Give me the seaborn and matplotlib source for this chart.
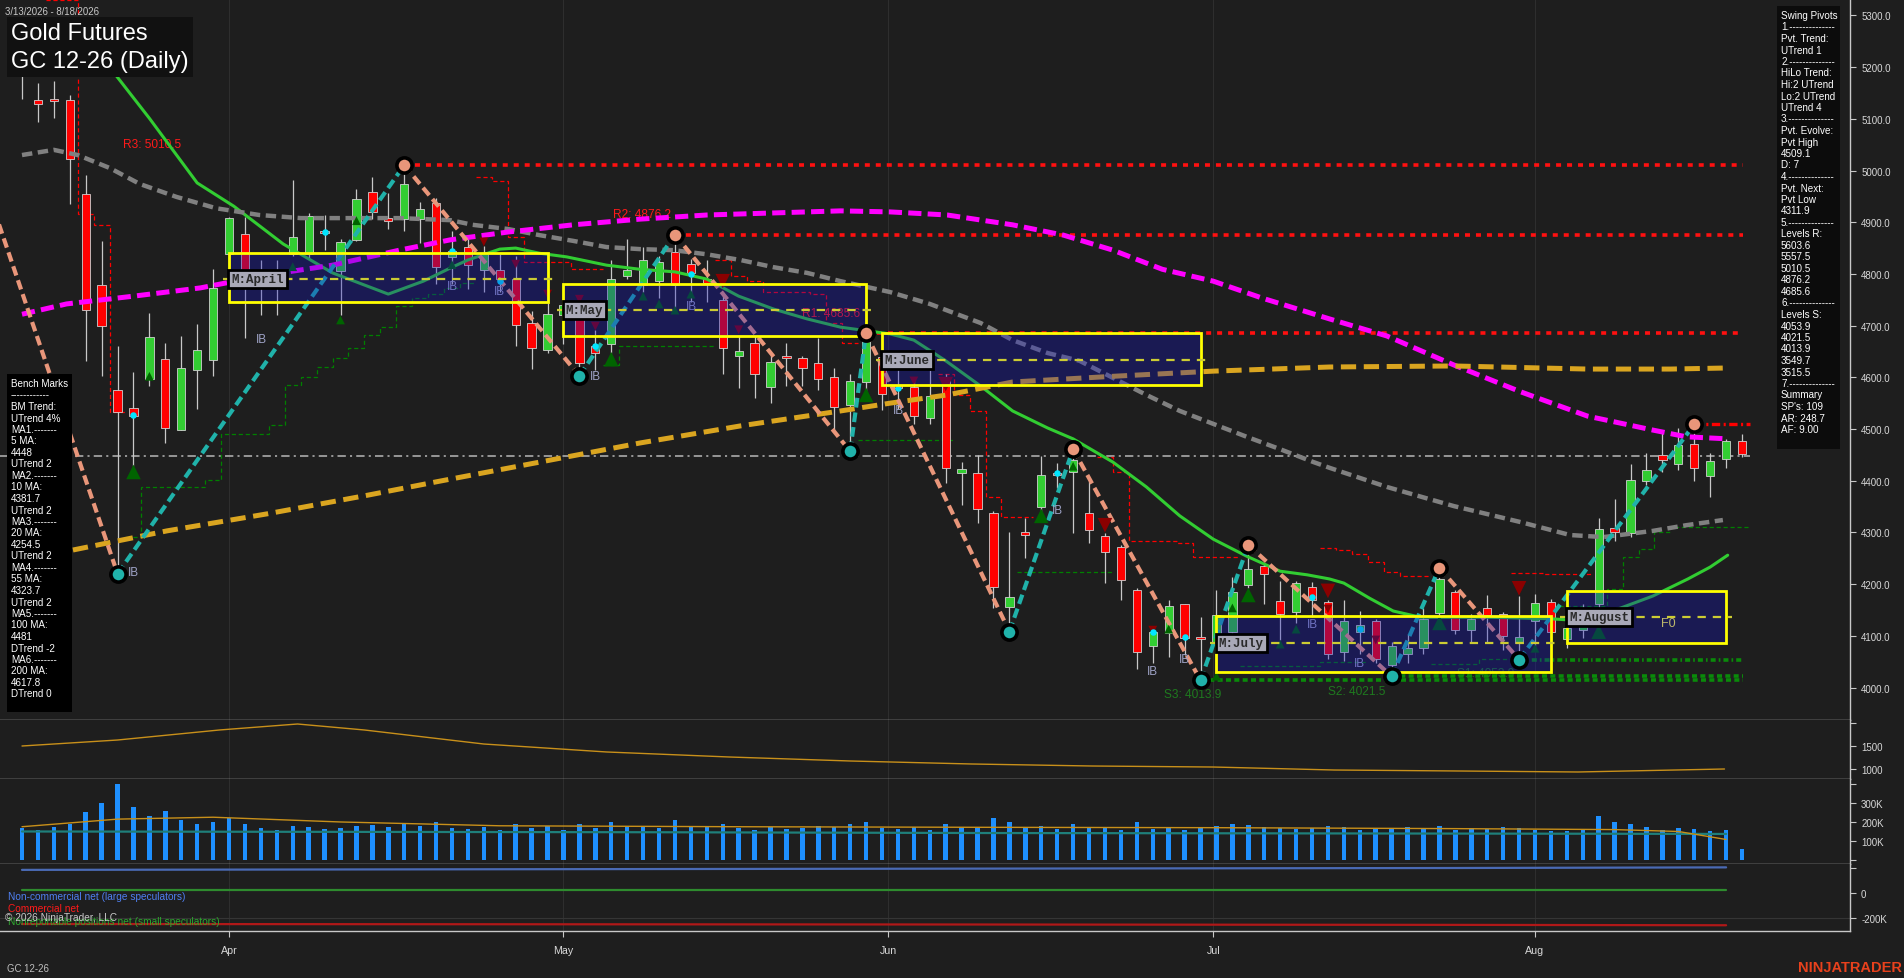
import numpy as np
import pandas as pd
import seaborn as sns
import matplotlib.pyplot as plt
from matplotlib.patches import Rectangle

# ---------------- daily bars, GC 12-26 (bar index 0 = 3/13/2026) ----------------
opens = [5210, 5137, 5138, 5137, 4954, 4779, 4575, 4541, 4597, 4636,
         4498, 4615, 4633, 4838, 4877, 4783, 4801, 4838, 4838, 4882,
         4806, 4865, 4958, 4909, 4907, 4907, 4938, 4832, 4853, 4808,
         4807, 4790, 4706, 4653, 4720, 4737, 4661, 4664, 4796, 4778,
         4786, 4842, 4820, 4790, 4749, 4642, 4666, 4581, 4642, 4638,
         4627, 4601, 4546, 4591, 4640, 4586, 4581, 4522, 4593, 4415,
         4415, 4337, 4155, 4300, 4349, 4415, 4417, 4337, 4293, 4272,
         4189, 4080, 4106, 4161, 4097, 4084, 4108, 4198, 4236, 4167,
         4147, 4195, 4165, 4068, 4108, 4129, 4043, 4065, 4076, 4145,
         4185, 4112, 4153, 4143, 4086, 4129, 4165, 4093, 4112, 4161,
         4309, 4299, 4400, 4449, 4433, 4471, 4410, 4443, 4476]
highs = [5235, 5169, 5173, 5147, 4992, 4863, 4660, 4611, 4725, 4666,
         4679, 4704, 4810, 4911, 4911, 4826, 4826, 4982, 4917, 4914,
         4867, 4964, 4988, 4956, 5010.5, 4940, 4946, 4883, 4867, 4855,
         4838, 4834, 4729, 4743, 4761, 4757, 4692, 4826, 4868, 4852,
         4834, 4876.2, 4828, 4827, 4765, 4680, 4680, 4644, 4666, 4641,
         4676, 4619, 4607, 4685.6, 4656, 4648, 4599, 4615, 4607, 4437,
         4449, 4341, 4301, 4327, 4447, 4435, 4461, 4400, 4299, 4275,
         4192, 4119, 4169, 4161, 4137, 4189, 4214, 4276, 4238, 4206,
         4206, 4204, 4169, 4169, 4149, 4133, 4088, 4104, 4153, 4231.6,
         4189, 4143, 4179, 4146, 4177, 4181, 4171, 4145, 4161, 4327,
         4364, 4433, 4453, 4494, 4502, 4509.1, 4453, 4481, 4491]
lows = [5138, 5094, 5102, 4936, 4631, 4603, 4220, 4429, 4583, 4473,
        4498, 4538, 4603, 4794, 4676, 4721, 4721, 4835, 4830, 4847,
        4721, 4863, 4907, 4887, 4883, 4860, 4780, 4780, 4771, 4766,
        4766, 4661, 4617, 4648, 4664, 4603, 4615, 4648, 4790, 4765,
        4753, 4737, 4745, 4745, 4607, 4579, 4560, 4550, 4583, 4583,
        4575, 4494, 4457, 4567, 4536, 4538, 4510, 4510, 4396, 4354,
        4319, 4153, 4108, 4250, 4331, 4386, 4299, 4279, 4202, 4169,
        4035, 4048, 4060, 4063, 4013.9, 4019, 4104, 4193, 4161, 4092,
        4125, 4137, 4056, 4052, 4064, 4048, 4021.5, 4048, 4064, 4137,
        4104, 4086, 4088, 4072, 4053.9, 4080, 4104, 4076, 4096, 4145,
        4283, 4291, 4392, 4417, 4421, 4400, 4368, 4425, 4445]
closes = [5187, 5129, 5134, 5022, 4730, 4700, 4532, 4526, 4678, 4502,
          4619, 4652, 4773, 4909, 4778, 4781, 4803, 4872, 4913, 4880,
          4861, 4945, 4919, 4902, 4974, 4925, 4813, 4845, 4818, 4838,
          4790, 4702, 4656, 4723, 4740, 4628, 4648, 4790, 4808, 4826,
          4824, 4778, 4802, 4783, 4656, 4651, 4607, 4630, 4637, 4618,
          4597, 4542, 4593, 4676, 4568, 4579, 4526, 4563, 4425, 4422,
          4346, 4194, 4175, 4295, 4411, 4412, 4441, 4305, 4262, 4208,
          4068, 4108, 4157, 4096, 4094, 4141, 4184, 4230, 4220, 4143,
          4202, 4169, 4065, 4129, 4120, 4056, 4080, 4076, 4133, 4210,
          4111, 4132, 4141, 4100, 4097, 4163, 4108, 4116, 4128, 4307,
          4301, 4402, 4421, 4441, 4469, 4425, 4438, 4476, 4451]
volume_k = [170, 160, 175, 190, 250, 300, 400, 280, 230, 260,
            210, 190, 200, 220, 190, 170, 160, 180, 175, 165,
            170, 180, 185, 175, 190, 180, 200, 170, 165, 175,
            160, 190, 170, 180, 160, 190, 170, 200, 180, 175,
            170, 210, 180, 175, 190, 170, 160, 175, 165, 170,
            180, 175, 190, 200, 170, 165, 175, 160, 190, 175,
            170, 220, 200, 175, 180, 165, 190, 175, 170, 160,
            200, 165, 170, 160, 175, 180, 190, 185, 175, 170,
            165, 170, 180, 175, 160, 170, 165, 175, 170, 180,
            160, 170, 165, 175, 170, 160, 150, 155, 160, 230,
            200, 190, 175, 160, 170, 165, 155, 160, 60]

month_labels = ["Apr", "May", "Jun", "Jul", "Aug"]
month_pos = [13, 34, 54.4, 74.8, 95]

# moving averages (bar, value)
ma20_bar = [2, 3.5, 5.5, 8, 11, 13.3, 16.4, 19.5, 23, 25.2, 27, 28, 30, 31, 32.5, 34.2, 36.7, 38.8, 41, 43,
            45, 47.2, 49.3, 51.4, 54.5, 56, 58, 60.2, 62.2, 64.4, 66, 68.5, 70.6, 72.7, 74.8, 76.9, 79,
            80.7, 82.1, 83, 84.6, 86.1, 87.8, 92, 96, 98, 100.4, 102.4, 104.6, 106, 107.1]
ma20_val = [5289, 5245, 5200, 5101, 4976, 4931, 4858, 4802, 4761, 4786, 4813, 4827, 4848, 4850, 4840, 4833,
            4817, 4809, 4804, 4790, 4757, 4732, 4713, 4697, 4684, 4672, 4632, 4583, 4535, 4502, 4481, 4436,
            4388, 4332, 4287, 4254, 4225, 4218, 4210, 4202, 4173, 4148, 4136, 4136, 4133, 4129, 4154, 4177,
            4210, 4233, 4256]
ma55_bar = [0, 2, 3.5, 5.5, 7.4, 9.7, 12.2, 14.9, 17.5, 20.6, 23.7, 26.9, 28.3, 30.5, 32.5, 34.6, 36.7,
            38.8, 40.9, 43, 45.1, 47.2, 49.3, 51.4, 54.5, 57, 60.2, 62.2, 64.4, 66.4, 68.5, 70.6, 72.7,
            74.8, 76.9, 79, 81.1, 82.1, 85.7, 89.9, 94.1, 97.2, 99.3, 102.4, 104.5, 106.8]
ma55_val = [5030, 5040, 5030, 5005, 4974, 4949, 4927, 4914, 4908, 4908, 4908, 4904, 4895, 4887, 4875, 4864,
            4852, 4848, 4846, 4838, 4827, 4813, 4802, 4786, 4765, 4742, 4705, 4672, 4647, 4632, 4599, 4566,
            4535, 4510, 4485, 4461, 4436, 4425, 4388, 4351, 4320, 4295, 4291, 4303, 4314, 4324]
ma100_bar = [0, 2.8, 7, 11.2, 15.4, 19.5, 23.7, 26.9, 30.5, 34.6, 38.8, 43, 47.2, 51.4, 54.5, 58.1, 62.2,
             65.4, 68.5, 71.6, 74.8, 77.9, 82.1, 85.7, 89.9, 94.1, 98.3, 102.4, 104.5, 107.1]
ma100_val = [4722, 4742, 4757, 4773, 4798, 4817, 4846, 4866, 4881, 4895, 4906, 4914, 4918, 4922, 4920, 4914,
             4895, 4875, 4846, 4809, 4786, 4753, 4713, 4680, 4624, 4572, 4525, 4498, 4485, 4481]
ma200_bar = [3.2, 9.1, 15.4, 21.7, 26.2, 32.5, 38.8, 45.1, 51.4, 54.5, 58.1, 62.2, 68.5, 74.8, 82.1, 89.9,
             98.3, 103.5, 106.9]
ma200_val = [4266, 4303, 4336, 4372, 4399, 4436, 4473, 4506, 4535, 4550, 4566, 4591, 4602, 4612, 4620, 4622,
             4616, 4616, 4618]

# swing pivots
pivot_bar = [-3, 6, 24, 35, 41, 52, 53, 62, 66, 74, 77, 86, 89, 94, 105]
pivot_price = [5037, 4220, 5010.5, 4603, 4876.2, 4457, 4685.6, 4108, 4461, 4013.9, 4276, 4021.5, 4231.6,
               4053.9, 4509.1]
res_names = ["R3", "R2", "R1"]
res_levels = [5010.5, 4876.2, 4685.6]
res_from = [24, 41, 53]
sup_names = ["S3", "S2", "S1"]
sup_levels = [4013.9, 4021.5, 4053.9]
sup_from = [74, 86, 94]
pivot_next_high = 4509.1
bench_5ma = 4448

# monthly boxes
box_names = ["M:April", "M:May", "M:June", "M:July", "M:August"]
box_start = [13, 34, 54, 75, 97]
box_end = [33, 53, 74, 96, 107]
box_top = [4841, 4780, 4686, 4138, 4187]
box_bot = [4746, 4680, 4585, 4031, 4086]
box_mid = [4790, 4730, 4634, 4086, 4136]

# trailing stop steps (first bar, values)
red_steps = [(2, [5330, 5330, 4916, 4894, 4532]),
             (29, [4987, 4980, 4871, 4823, 4823, 4823, 4809, 4809]),
             (44, [4827, 4796, 4786, 4765, 4765, 4765, 4761, 4705, 4666]),
             (58, [4606, 4566, 4535, 4368, 4330, 4330]),
             (68, [4446, 4417, 4283, 4283, 4283, 4280, 4252, 4252, 4252]),
             (82, [4270, 4266, 4258, 4243, 4223, 4216, 4216]),
             (94, [4221, 4221, 4220, 4220, 4220])]
green_steps = [(7, [4291, 4388, 4388, 4388, 4388, 4401, 4490, 4490, 4490, 4508, 4585, 4601, 4620, 4637,
                    4657, 4682, 4697, 4738, 4753, 4761, 4773, 4782]),
               (37, [4623, 4661, 4661, 4661, 4661, 4661, 4661]),
               (53, [4478, 4478, 4478, 4478, 4478, 4478]),
               (63, [4223, 4223, 4223, 4223, 4223, 4223]),
               (77, [4042, 4042, 4042, 4042, 4042, 4049, 4049, 4049]),
               (89, [4045, 4045, 4045, 4055, 4055, 4055]),
               (97, [4158, 4158, 4158, 4191, 4252, 4268, 4301, 4311, 4311, 4311, 4311, 4311])]

# inside bar marks
ib_bar = [7, 15, 27, 30, 36, 42, 55, 65, 71, 73, 81, 84]
ib_price = [4224, 4674, 4777, 4767, 4602, 4738, 4537, 4343, 4032, 4055, 4123, 4047]
dot_bar = [7, 15, 19, 27, 30, 36, 42, 55, 65, 71, 73, 81, 84]
dot_price = [4527, 4782, 4881, 4844, 4786, 4661, 4800, 4579, 4415, 4108, 4098, 4175, 4113]
up_bar = [7, 8, 17, 20, 21, 27, 37, 39, 40, 41, 42, 53, 64, 66, 72, 75, 76, 77, 79, 80, 89, 95, 99]
up_price = [4417, 4602, 4814, 4711, 4903, 4818, 4635, 4757, 4742, 4730, 4761, 4566, 4332, 4428, 4113, 4022,
            4154, 4179, 4084, 4113, 4125, 4076, 4108]
up_big = [1, 0, 0, 0, 0, 0, 1, 0, 0, 0, 0, 1, 1, 0, 0, 0, 0, 1, 0, 0, 1, 0, 1]
dn_bar = [29, 31, 33, 35, 36, 44, 45, 56, 58, 68, 71, 82, 82, 85, 94]
dn_price = [4862, 4819, 4761, 4751, 4699, 4786, 4692, 4593, 4587, 4314, 4111, 4187, 4152, 4092, 4192]
dn_big = [0, 0, 0, 0, 0, 1, 0, 0, 1, 1, 0, 1, 0, 0, 1]

# lower panels
atr_bar = [0, 6, 12.4, 17.3, 21.5, 29, 36.7, 44.4, 52, 59.6, 67.2, 74.8, 82.4, 90.1, 97.7, 106.9]
atr_val = [1500, 1630, 1848, 1978, 1848, 1543, 1370, 1261, 1174, 1109, 1065, 1043, 978, 957, 935, 1000]
vol_avg_bar = [0, 6, 12, 20, 30, 45, 60, 75, 90, 100, 104, 107]
vol_avg_val = [175, 215, 225, 200, 180, 175, 172, 170, 165, 160, 150, 108]
oi_bar = [0, 20, 40, 60, 80, 100, 107]
oi_val = [150, 148, 146, 142, 140, 138, 137]
cot_bar = [0, 30, 60, 90, 107]
noncomm_k = [185, 190, 195, 200, 205]
comm_k = [-248, -250, -252, -255, -258]
nonrep_k = [26, 26, 26, 26, 26]

bench_lines = ["Bench Marks", "------------", "BM Trend:", "UTrend 4%", "MA1.-------", "5 MA:", "4448",
               "UTrend 2", "MA2.-------", "10 MA:", "4381.7", "UTrend 2", "MA3.-------", "20 MA:", "4254.5",
               "UTrend 2", "MA4.-------", "55 MA:", "4323.7", "UTrend 2", "MA5.-------", "100 MA:", "4481",
               "DTrend -2", "MA6.-------", "200 MA:", "4617.8", "DTrend 0"]
pivot_lines = ["Swing Pivots", "1.--------------", "Pvt. Trend:", "UTrend 1", "2.--------------",
               "HiLo Trend:", "Hi:2 UTrend", "Lo:2 UTrend", "UTrend 4", "3.--------------", "Pvt. Evolve:",
               "Pvt High", "4509.1", "D: 7", "4.--------------", "Pvt. Next:", "Pvt Low", "4311.9",
               "5.--------------", "Levels R:", "5603.6", "5557.5", "5010.5", "4876.2", "4685.6",
               "6.--------------", "Levels S:", "4053.9", "4021.5", "4013.9", "3549.7", "3515.5",
               "7.--------------", "Summary", "SP's: 109", "AR: 248.7", "AF: 9.00"]

# ---------------- styling ----------------
BG = "#1e1e1e"
FG = "#c8c8c8"
sns.set_theme(style="dark", rc={"axes.facecolor": BG, "figure.facecolor": BG})
plt.rcParams["font.family"] = ["Liberation Sans", "DejaVu Sans"]
plt.rcParams["lines.scale_dashes"] = False

W, H = 1904, 979
fig = plt.figure(figsize=(W / 100, H / 100), dpi=100)
fig.patch.set_facecolor(BG)


def px_axes(x0, y0, x1, y1, **kw):
    return fig.add_axes([x0 / W, 1 - y1 / H, (x1 - x0) / W, (y1 - y0) / H], **kw)


ax = px_axes(0, 0, 1850, 721)
ax_atr = px_axes(0, 721, 1850, 780, sharex=ax)
ax_vol = px_axes(0, 780, 1850, 865, sharex=ax)
ax_cot = px_axes(0, 865, 1850, 932, sharex=ax)

for a in (ax, ax_atr, ax_vol, ax_cot):
    a.set_facecolor(BG)
    for s in ("left", "top"):
        a.spines[s].set_visible(False)
    for s in ("right", "bottom"):
        a.spines[s].set_visible(True)
        a.spines[s].set_color(FG)
        a.spines[s].set_linewidth(1.0)
    a.yaxis.tick_right()
    a.tick_params(axis="y", colors=FG, labelcolor="#d8d8d8", length=4, width=0.8, labelsize=7, pad=4,
                  left=False, right=True)
    a.tick_params(axis="x", bottom=False, labelbottom=False)
    a.grid(False)
    for mp in month_pos:
        a.axvline(mp, color="#2e2e2e", lw=0.8, zorder=0)

ax.set_xlim(-1.381, 114.78)
ax.set_ylim(3937.2, 5331.8)
ax.set_yticks(np.arange(4000, 5301, 100))
ax.set_yticklabels([f"{v:.1f}" for v in np.arange(4000, 5301, 100)])

# ---------------- candles ----------------
o, h, l, c = map(np.asarray, (opens, highs, lows, closes))
x = np.arange(len(o))
up = c >= o
ax.vlines(x, l, h, color="#c8c8c8", lw=0.9, zorder=3)
body_h = np.maximum(np.abs(c - o), 3)
ax.bar(x, body_h, bottom=np.minimum(o, c), width=0.52,
       color=np.where(up, "#32cd32", "#ff0000"), edgecolor="#d0d0d0", linewidth=0.6, zorder=4)

# moving averages
sns.lineplot(x=ma20_bar, y=ma20_val, ax=ax, color="#32cd32", lw=2.2, zorder=5, legend=False)
sns.lineplot(x=ma55_bar, y=ma55_val, ax=ax, color="#808080", lw=3.2, linestyle=(0, (7.5, 4)), zorder=5,
             legend=False)
sns.lineplot(x=ma100_bar, y=ma100_val, ax=ax, color="#ff00ff", lw=3.6, linestyle=(0, (9.5, 4.5)), zorder=5,
             legend=False)
sns.lineplot(x=ma200_bar, y=ma200_val, ax=ax, color="#daa520", lw=3.6, linestyle=(0, (11, 5.5)), zorder=5,
             legend=False)

# last-price line
ax.plot([-1.4, 108.5], [bench_5ma, bench_5ma], color="#a0a0a0", lw=1.3, linestyle=(0, (6, 3, 1.5, 3)),
        zorder=2)

# trailing stops
for start, vals in red_steps:
    edges = np.arange(start - 0.5, start + len(vals) + 0.5)
    ax.stairs(vals, edges, baseline=None, color="#ff0000", lw=0.9, linestyle=(0, (3, 2)), zorder=2)
for start, vals in green_steps:
    edges = np.arange(start - 0.5, start + len(vals) + 0.5)
    ax.stairs(vals, edges, baseline=None, color="#008000", lw=0.9, linestyle=(0, (3, 2)), zorder=2)

# resistance / support levels
for name, lvl, frm in zip(res_names, res_levels, res_from):
    ax.plot([frm, 108.06], [lvl, lvl], color="#ff1010", lw=2.6, linestyle=(0, (3.6, 4.3)), zorder=2)
ax.text(6.35, 5051, f"{res_names[0]}: {res_levels[0]}", color="#ff1a1a", fontsize=8.6, va="center", zorder=2)
ax.text(37.1, 4916, f"{res_names[1]}: {res_levels[1]}", color="#ff1a1a", fontsize=8.6, va="center", zorder=2)
ax.text(49.0, 4724, f"{res_names[2]}: {res_levels[2]}", color="#ff1a1a", fontsize=8.6, va="center", zorder=2)
for name, lvl, frm in zip(sup_names, sup_levels, sup_from):
    ls = (0, (3.6, 2.2, 1.2, 2.2)) if name == "S1" else (0, (3.6, 2.4))
    ax.plot([frm, 108.06], [lvl, lvl], color="#0a8a0a", lw=2.6, linestyle=ls, zorder=3)
ax.text(71.7, 3988, f"{sup_names[0]}: {sup_levels[0]}", color="#1e7a1e", fontsize=8.6, va="center", zorder=2)
ax.text(82.0, 3993, f"{sup_names[1]}: {sup_levels[1]}", color="#1e7a1e", fontsize=8.6, va="center", zorder=2)
ax.text(90.1, 4029, f"{sup_names[2]}: {sup_levels[2]}", color="#1e7a1e", fontsize=8.6, va="center", zorder=2)
ax.plot([105, 108.5], [pivot_next_high, pivot_next_high], color="#ff0000", lw=2.4,
        linestyle=(0, (6, 2.5, 1.5, 2.5)), zorder=6)

# zigzag
for i in range(len(pivot_bar) - 1):
    col = "#e9967a" if pivot_price[i + 1] < pivot_price[i] else "#20b2aa"
    ax.plot(pivot_bar[i:i + 2], pivot_price[i:i + 2], color=col, lw=3.0, linestyle=(0, (7, 3.6)), zorder=6)

# triangles, dots, IB
ax.scatter(up_bar, up_price, marker="^", s=[110 if b else 40 for b in up_big], color="#006400",
           linewidths=0, zorder=6)
ax.scatter(dn_bar, dn_price, marker="v", s=[110 if b else 40 for b in dn_big], color="#8b0000",
           linewidths=0, zorder=6)
ax.scatter(dot_bar, dot_price, s=22, color="#00e5ff", linewidths=0, zorder=6)
for b, p in zip(ib_bar, ib_price):
    ax.text(b, p, "IB", color="#a0a4c8", fontsize=8.4, ha="center", va="center", zorder=6)

# monthly boxes
for name, s0, s1, top, bot, mid in zip(box_names, box_start, box_end, box_top, box_bot, box_mid):
    ax.add_patch(Rectangle((s0, bot), s1 - s0, top - bot, facecolor="#1414c0", alpha=0.33,
                           edgecolor="none", zorder=7))
    ax.add_patch(Rectangle((s0, bot), s1 - s0, top - bot, facecolor="none", edgecolor="#ffff00",
                           lw=2.0, zorder=8))
    ax.plot([s0 - 0.4, s1 + 0.4], [mid, mid], color="#cccc33", lw=1.6, linestyle=(0, (6, 5)), zorder=8)
    ax.text(s0 + 0.15, mid, name, fontsize=9, family=["Liberation Mono", "DejaVu Sans Mono"],
            fontweight="bold", color="#2a2a2a", ha="left", va="center", zorder=10,
            bbox=dict(boxstyle="square,pad=0.25", facecolor="#a9a9b8", edgecolor="black", lw=2))
ax.text(103.4, 4125, "F0", color="#bdb76b", fontsize=9, ha="center", va="center", zorder=9)

# pivot circles
for i, (b, p) in enumerate(zip(pivot_bar, pivot_price)):
    if b < 0:
        continue
    is_high = (i + 1 < len(pivot_price) and pivot_price[i + 1] < p) or (i > 0 and pivot_price[i - 1] < p)
    ax.scatter([b], [p], s=120, color="#e9967a" if is_high else "#20b2aa", edgecolors="black",
               linewidths=2.6, zorder=9)

# ---------------- lower panels ----------------
ax_atr.set_ylim(782.6, 2065)
ax_atr.set_yticks([1000, 1500, 2000])
ax_atr.set_yticklabels(["1000", "1500", ""])
sns.lineplot(x=atr_bar, y=atr_val, ax=ax_atr, color="#c8901a", lw=1.0, legend=False)

ax_vol.set_ylim(-21, 426)
ax_vol.set_yticks([0, 100, 200, 300, 400])
ax_vol.set_yticklabels(["", "100K", "200K", "300K", ""])
ax_vol.bar(x, volume_k, width=0.28, color="#1e90ff", edgecolor="none", linewidth=0, zorder=3)
sns.lineplot(x=oi_bar, y=oi_val, ax=ax_vol, color="#1f7f7a", lw=1.6, zorder=4, legend=False)
sns.lineplot(x=vol_avg_bar, y=vol_avg_val, ax=ax_vol, color="#c8901a", lw=1.0, zorder=5, legend=False)

ax_cot.set_ylim(-304, 232)
ax_cot.set_yticks([-200, 0, 200])
ax_cot.set_yticklabels(["-200K", "0", ""])
ax_cot.axhline(-200, color="#353535", lw=0.8, zorder=0)
sns.lineplot(x=cot_bar, y=noncomm_k, ax=ax_cot, color="#4a6ab4", lw=1.6, legend=False)
sns.lineplot(x=cot_bar, y=nonrep_k, ax=ax_cot, color="#2e8b2e", lw=1.6, legend=False)
sns.lineplot(x=cot_bar, y=comm_k, ax=ax_cot, color="#b01818", lw=1.6, legend=False)
ax_cot.tick_params(axis="x", bottom=True, labelbottom=True, colors=FG, labelcolor="#d8d8d8",
                   length=4, width=0.8, labelsize=7.7, pad=6)
ax_cot.set_xticks(month_pos)
ax_cot.set_xticklabels(month_labels)
for a in (ax, ax_atr, ax_vol, ax_cot):
    a.set_xlabel("")
    a.set_ylabel("")
ax.set_xlim(-1.381, 114.78)


# ---------------- overlays (figure pixel coords) ----------------
def box(x0, y0, x1, y1, fc):
    fig.add_artist(Rectangle((x0 / W, 1 - y1 / H), (x1 - x0) / W, (y1 - y0) / H,
                             transform=fig.transFigure, facecolor=fc, edgecolor="none", zorder=20))


def ftext(xp, yp, s, **kw):
    kw.setdefault("zorder", 21)
    fig.text(xp / W, 1 - yp / H, s, va="center", **kw)


ftext(5, 12, "3/13/2026 - 8/18/2026", color="#c8c8c8", fontsize=6.9)
box(7, 18, 193, 78, "#111111")
ftext(11, 34, "Gold Futures", color="white", fontsize=17)
ftext(11, 62, "GC 12-26 (Daily)", color="white", fontsize=17)

box(7, 375, 72, 713, "#000000")
for k, line in enumerate(bench_lines):
    ftext(11, 384 + 11.5 * k, line, color="white", fontsize=7.1)

box(1777, 7, 1840, 450, "#0c0c0c")
for k, line in enumerate(pivot_lines):
    ftext(1781, 16 + 11.5 * k, line, color="white", fontsize=7.1)

ftext(8, 897, "Non-commercial net (large speculators)", color="#4f7ff0", fontsize=7.3)
ftext(8, 909, "Commercial net", color="#ff1a1a", fontsize=7.3)
ftext(8, 922, "Nonreportable positions net (small speculators)", color="#2ea82e", fontsize=7.3)
ftext(5, 918, "\u00a9 2026 NinjaTrader, LLC", color="#c8c8c8", fontsize=7.3, zorder=22)
ftext(7, 969, "GC 12-26", color="#c0c0c0", fontsize=6.9)
ftext(1902, 968, "NINJATRADER", color="#e8411c", fontsize=10.5, fontweight="bold", ha="right")

fig.savefig("out.png", dpi=100, facecolor=BG)
